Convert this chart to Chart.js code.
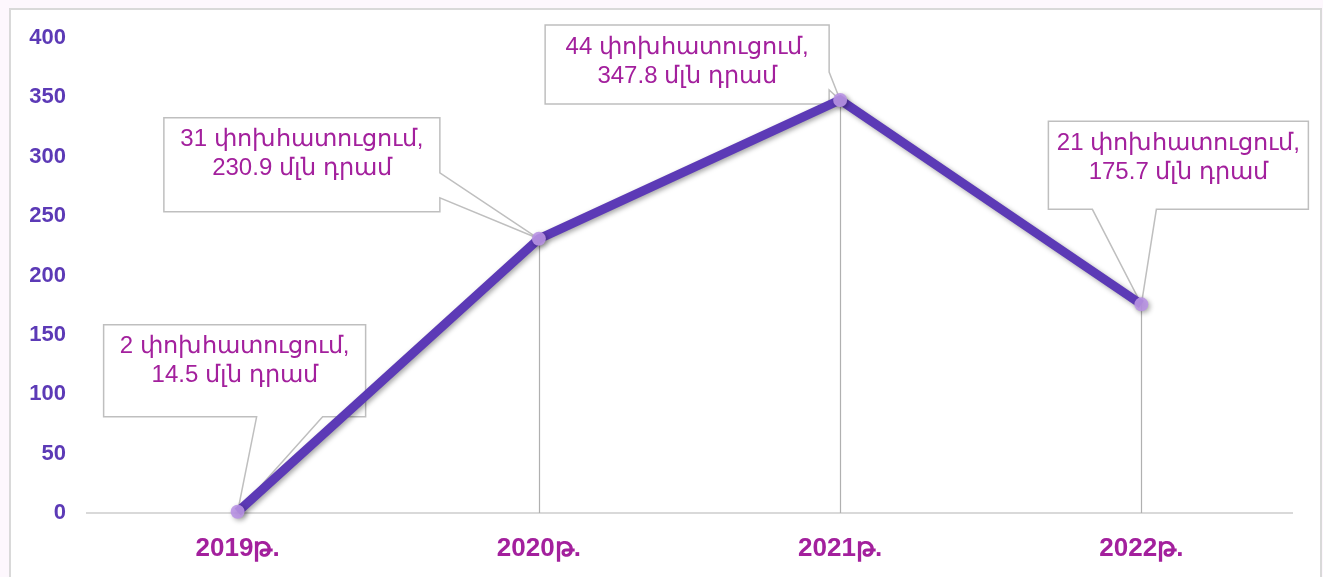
<!DOCTYPE html>
<html>
<head>
<meta charset="utf-8">
<script src="https://cdn.jsdelivr.net/npm/chart.js@4"></script>
<style>
  html, body { margin: 0; padding: 0; background: #fdf7fd; }
  #wrap { width: 1323px; height: 577px; }
</style>
</head>
<body>
<div id="wrap"><canvas id="chart" width="1323" height="577"></canvas></div>
<script>
// data
const years = ['2019թ.', '2020թ.', '2021թ.', '2022թ.'];
const plotted = [1, 230.9, 347.8, 175.7];
const cases = [2, 31, 44, 21];
const amounts = ['14.5', '230.9', '347.8', '175.7'];
const yTicks = [0, 50, 100, 150, 200, 250, 300, 350, 400];

// callout placement relative to each point (box offset/size, wedge side + span)
const boxes = [
  { dx: -134, dy: -187, w: 262, h: 92, side: 'bottom', a: 153, b: 219 },
  { dx: -375, dy: -121, w: 276, h: 94, side: 'right', a: 55, b: 80 },
  { dx: -295, dy: -75, w: 284, h: 79, side: 'right', a: 47, b: 65 },
  { dx: -93, dy: -183, w: 260, h: 88, side: 'bottom', a: 44, b: 108 }
];

const purple = '#5c3ab6';
const magenta = '#a3209d';

const frame = {
  id: 'frame',
  beforeDraw(chart) {
    const c = chart.ctx;
    c.save();
    c.fillStyle = '#fdf7fd';
    c.fillRect(0, 0, chart.width, chart.height);
    c.fillStyle = '#ffffff';
    c.fillRect(10, 9, 1311, 600);
    c.strokeStyle = '#d9d9d9';
    c.lineWidth = 2;
    c.strokeRect(10, 9, 1311, 600);
    c.restore();
  }
};

const callouts = {
  id: 'callouts',
  beforeDatasetsDraw(chart) {
    const c = chart.ctx;
    const pts = chart.getDatasetMeta(0).data;
    const y0 = chart.scales.y.getPixelForValue(0);
    c.save();
    // drop lines
    c.strokeStyle = '#b0b0b0';
    c.lineWidth = 1.2;
    pts.forEach(p => {
      c.beginPath();
      c.moveTo(Math.round(p.x) + 0.5, p.y);
      c.lineTo(Math.round(p.x) + 0.5, y0);
      c.stroke();
    });
    // boxes
    pts.forEach((p, i) => {
      const b = boxes[i];
      const L = p.x + b.dx, T = p.y + b.dy, R = L + b.w, B = T + b.h;
      c.beginPath();
      c.moveTo(L, T);
      if (b.side === 'right') {
        c.lineTo(R, T);
        c.lineTo(R, T + b.a);
        c.lineTo(p.x, p.y);
        c.lineTo(R, T + b.b);
        c.lineTo(R, B);
        c.lineTo(L, B);
      } else {
        c.lineTo(R, T);
        c.lineTo(R, B);
        c.lineTo(L + b.b, B);
        c.lineTo(p.x, p.y);
        c.lineTo(L + b.a, B);
        c.lineTo(L, B);
      }
      c.closePath();
      c.fillStyle = '#ffffff';
      c.fill();
      c.strokeStyle = '#bfbfbf';
      c.lineWidth = 1.5;
      c.stroke();
      c.fillStyle = magenta;
      c.font = '24px "Liberation Sans", Arial, "Noto Sans", sans-serif';
      c.textAlign = 'center';
      c.textBaseline = 'middle';
      const cx = L + b.w / 2;
      c.fillText(cases[i] + ' փոխհատուցում,', cx, T + 22);
      c.fillText(amounts[i] + ' մլն դրամ', cx, T + 51);
    });
    c.restore();
  },
  beforeDatasetDraw(chart) {
    const c = chart.ctx;
    c.save();
    c.shadowColor = 'rgba(0,0,0,0.35)';
    c.shadowBlur = 5;
    c.shadowOffsetX = 2;
    c.shadowOffsetY = 2;
  },
  afterDatasetDraw(chart) {
    chart.ctx.restore();
  }
};

new Chart(document.getElementById('chart'), {
  type: 'line',
  data: {
    labels: years,
    datasets: [{
      data: plotted,
      borderColor: purple,
      borderWidth: 9,
      tension: 0,
      pointRadius: 7,
      pointHoverRadius: 7,
      pointBackgroundColor: 'rgba(185,148,228,0.9)',
      pointBorderWidth: 0,
      clip: false
    }]
  },
  options: {
    responsive: false,
    animation: false,
    layout: { padding: { top: 38, right: 31, left: 0, bottom: 0 } },
    plugins: { legend: { display: false }, tooltip: { enabled: false } },
    scales: {
      x: {
        offset: true,
        grid: { display: false, drawTicks: false },
        border: { color: '#d9d9d9', width: 2 },
        ticks: {
          color: magenta,
          padding: 20,
          font: { family: '"Liberation Sans", Arial, "Noto Sans", sans-serif', size: 26, weight: 'bold' }
        },
        afterFit(s) { s.height = 64; }
      },
      y: {
        min: 0,
        max: 400,
        afterBuildTicks(s) { s.ticks = yTicks.map(v => ({ value: v })); },
        grid: { display: false, drawTicks: false },
        border: { display: false },
        ticks: {
          color: purple,
          padding: 21,
          font: { family: '"Liberation Sans", Arial, sans-serif', size: 22, weight: 'bold' }
        },
        afterFit(s) { s.width = 87; }
      }
    }
  },
  plugins: [frame, callouts]
});
</script>
</body>
</html>
